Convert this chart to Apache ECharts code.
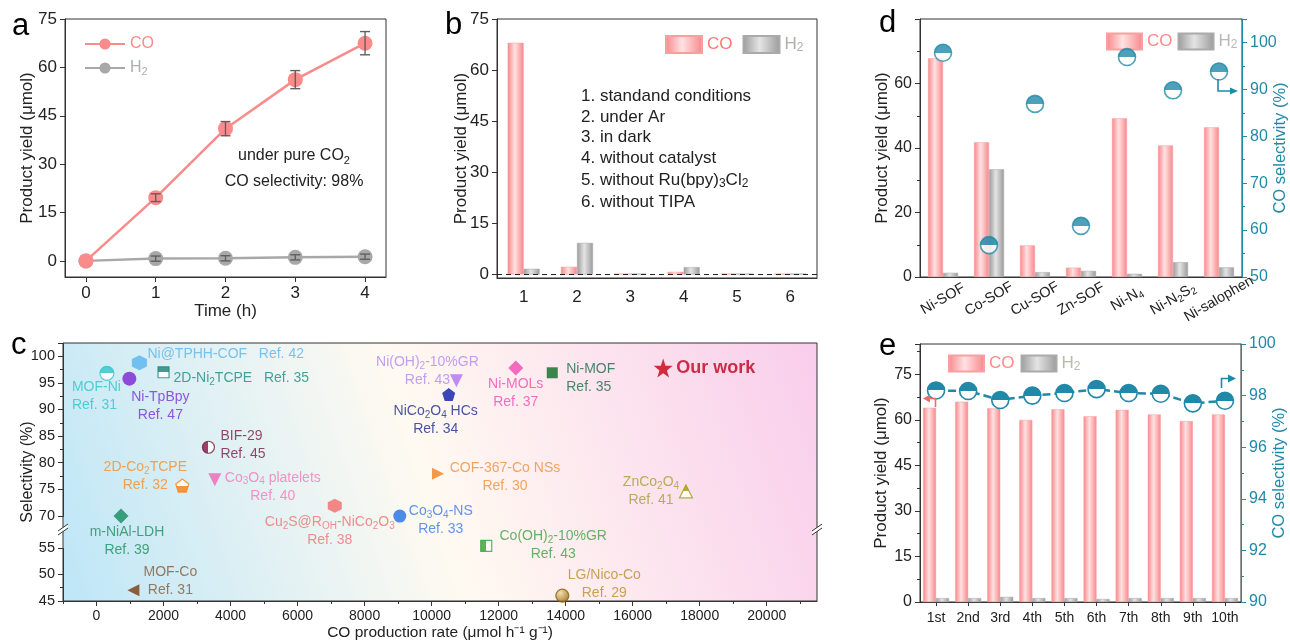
<!DOCTYPE html>
<html><head><meta charset="utf-8">
<script src="https://cdn.jsdelivr.net/npm/echarts@6/dist/echarts.min.js"></script>
<style>html,body{margin:0;padding:0;background:#fff}#chart{width:1290px;height:641px}</style>
</head><body><div id="chart"></div>
<script>
// ---------- Panel a ----------
const aTime = [0, 1, 2, 3, 4];
const aCO = [0, 19.6, 41, 56.2, 67.5];
const aCOerr = [0, 1.2, 2.2, 2.8, 3.6];
const aH2 = [0, 0.7, 0.8, 1.1, 1.3];
const aH2err = [0, 0.8, 0.8, 0.8, 0.8];
const aXTicks = [0, 1, 2, 3, 4];
const aYTicks = [0, 15, 30, 45, 60, 75];
// ---------- Panel b ----------
const bCats = ['1', '2', '3', '4', '5', '6'];
const bCO = [68, 2.3, 0.3, 0.8, 0.3, 0.3];
const bH2 = [1.7, 9.3, 0.3, 2.2, 0.3, 0.3];
const bYTicks = [0, 15, 30, 45, 60, 75];
const bNotes = ['1. standand conditions', '2. under Ar', '3. in dark', '4. without catalyst',
  '5. without Ru(bpy){s|3}Cl{s|2}', '6. without TIPA'];
// ---------- Panel c ----------
const cNames = ['MOF-Ni', 'Ni@TPHH-COF', 'Ni-TpBpy', '2D-Ni{s|2}TCPE', 'BIF-29', '2D-Co{s|2}TCPE',
  'Co{s|3}O{s|4} platelets', 'Cu{s|2}S@R{s|OH}-NiCo{s|2}O{s|3}', 'Co{s|3}O{s|4}-NS', 'm-NiAl-LDH', 'MOF-Co',
  'Ni(OH){s|2}-10%GR', 'NiCo{s|2}O{s|4} HCs', 'COF-367-Co NSs', 'Ni-MOLs', 'Ni-MOF', 'Our work',
  'ZnCo{s|2}O{s|4}', 'Co(OH){s|2}-10%GR', 'LG/Nico-Co'];
const cRefs = ['Ref. 31', 'Ref. 42', 'Ref. 47', 'Ref. 35', 'Ref. 45', 'Ref. 32', 'Ref. 40', 'Ref. 38',
  'Ref. 33', 'Ref. 39', 'Ref. 31', 'Ref. 43', 'Ref. 34', 'Ref. 30', 'Ref. 37', 'Ref. 35', '',
  'Ref. 41', 'Ref. 43', 'Ref. 29'];
const cRate = [310, 1280, 980, 2000, 3340, 2560, 3530, 7110, 9050, 730, 1100,
  10740, 10510, 10190, 12510, 13600, 16910, 17590, 11630, 13900];
const cSel = [96.8, 98.8, 95.8, 97, 82.9, 75.7, 76.8, 71.9, 69.9, 69.9, 47,
  95.4, 92.8, 77.9, 97.8, 96.9, 97.8, 74.6, 55.9, 46];
const cXTicks = [0, 2000, 4000, 6000, 8000, 10000, 12000, 14000, 16000, 18000, 20000];
const cXMinor = [-1000, 1000, 3000, 5000, 7000, 9000, 11000, 13000, 15000, 17000, 19000, 21000];
// ---------- Panel d ----------
const dCats = ['Ni-SOF', 'Co-SOF', 'Cu-SOF', 'Zn-SOF', 'Ni-N{s|4}', 'Ni-N{s|2}S{s|2}', 'Ni-salophen'];
const dCO = [67.8, 41.8, 9.8, 2.9, 49.2, 40.8, 46.4];
const dH2 = [1.3, 33.4, 1.5, 1.9, 1.0, 4.6, 3.0];
const dSel = [97.8, 56.8, 86.9, 60.9, 96.9, 89.8, 93.8];
// ---------- Panel e ----------
const eCats = ['1st', '2nd', '3rd', '4th', '5th', '6th', '7th', '8th', '9th', '10th'];
const eCO = [64, 66, 63.8, 60, 63.5, 61.2, 63.3, 61.8, 59.6, 61.8];
const eH2 = [1.3, 1.3, 1.7, 1.3, 1.3, 1.0, 1.3, 1.3, 1.3, 1.3];
const eSel = [98.2, 98.18, 97.83, 98.0, 98.1, 98.25, 98.1, 98.07, 97.7, 97.8];

// ---------- styles ----------
const FF = 'Arial, "Liberation Sans", Helvetica, sans-serif';
const TEAL = '#2189a8';
const INK = '#222';
const G = echarts.graphic;
function sub(fs) { const f = Math.round(fs * 0.68); return { s: { fontSize: f, lineHeight: f, verticalAlign: 'bottom' } }; }
function barGrad(edge, mid) { return new G.LinearGradient(0, 0, 1, 0, [{ offset: 0, color: edge }, { offset: 0.45, color: mid }, { offset: 1, color: edge }]); }
const PINK = barGrad('#f8868a', '#ffe2e2');
const GRAY = barGrad('#9a9a9a', '#e4e4e4');
const GradCtor = PINK.constructor;
function half(c, mode) {
  const w = '#ffffff';
  if (mode === 'top') return new G.LinearGradient(0, 0, 0, 1, [{ offset: 0, color: c }, { offset: 0.5, color: c }, { offset: 0.5, color: w }, { offset: 1, color: w }]);
  if (mode === 'bottom') return new G.LinearGradient(0, 0, 0, 1, [{ offset: 0, color: w }, { offset: 0.5, color: w }, { offset: 0.5, color: c }, { offset: 1, color: c }]);
  if (mode === 'left') return new G.LinearGradient(0, 0, 1, 0, [{ offset: 0, color: c }, { offset: 0.5, color: c }, { offset: 0.5, color: w }, { offset: 1, color: w }]);
  if (mode === 'sphere') return new G.RadialGradient(0.35, 0.3, 0.7, [{ offset: 0, color: '#f3dca0' }, { offset: 1, color: '#98680e' }]);
  return c;
}
const SYM = {
  circle: 'circle', rect: 'rect', diamond: 'diamond', tri: 'triangle',
  hex: 'path://M50,0 L93.3,25 L93.3,75 L50,100 L6.7,75 L6.7,25 Z',
  pent: 'path://M50,0 L97.6,34.5 L79.4,90.5 L20.6,90.5 L2.4,34.5 Z',
  star: 'path://M50,0 L61.8,35.3 L97.6,35.3 L68.8,57.1 L79.4,91.2 L50,70.6 L20.6,91.2 L31.2,57.1 L2.4,35.3 L38.2,35.3 Z',
  tdown: 'path://M0,0 L100,0 L50,86.6 Z',
  tleft: 'path://M0,50 L86.6,0 L86.6,100 Z',
  tright: 'path://M0,0 L86.6,50 L0,100 Z'
};
// symbol, colour, fill mode, size, label align, dx, dy, inline
const cStyle = [
  { sym: 'circle', c: '#33c6c8', f: 'top', s: 14, al: 'left', dx: -35, dy: 23 },
  { sym: 'hex', c: '#58b5ef', f: 'solid', s: 15, al: 'left', dx: 8, dy: -9, inline: true },
  { sym: 'circle', c: '#7a22d6', f: 'solid', s: 14, al: 'center', dx: 31, dy: 27 },
  { sym: 'rect', c: '#1c8479', f: 'top', s: 11, al: 'left', dx: 10, dy: 6, inline: true },
  { sym: 'circle', c: '#861743', f: 'left', s: 12, al: 'left', dx: 12, dy: -2 },
  { sym: 'pent', c: '#ff7f12', f: 'bottom', s: 13, al: 'center', dx: -37, dy: -9 },
  { sym: 'tdown', c: '#f064b4', f: 'solid', s: 13, al: 'center', dx: 58, dy: 7 },
  { sym: 'hex', c: '#f26c6c', f: 'solid', s: 14, al: 'center', dx: -5, dy: 25 },
  { sym: 'circle', c: '#1f6fe6', f: 'solid', s: 13, al: 'center', dx: 41, dy: 4 },
  { sym: 'diamond', c: '#138a5c', f: 'solid', s: 15, al: 'center', dx: 6, dy: 25 },
  { sym: 'tleft', c: '#7a3a0e', f: 'solid', s: 12, al: 'center', dx: 37, dy: -9 },
  { sym: 'tdown', c: '#b070f2', f: 'solid', s: 13, al: 'center', dx: -29, dy: -10 },
  { sym: 'pent', c: '#0a1ca8', f: 'solid', s: 13, al: 'center', dx: -13, dy: 26 },
  { sym: 'tright', c: '#f28020', f: 'solid', s: 12, al: 'center', dx: 67, dy: 3 },
  { sym: 'diamond', c: '#f048b2', f: 'solid', s: 15, al: 'center', dx: 0, dy: 25 },
  { sym: 'rect', c: '#0b6a22', f: 'solid', s: 11, al: 'left', dx: 14, dy: 5 },
  { sym: 'star', c: '#c8000f', f: 'solid', s: 19, al: 'left', dx: 13, dy: 0 },
  { sym: 'tri', c: '#a39e12', f: 'top', s: 13, al: 'center', dx: -35, dy: 0 },
  { sym: 'rect', c: '#33a233', f: 'left', s: 11, al: 'center', dx: 67, dy: -1 },
  { sym: 'circle', c: '#a8760f', f: 'sphere', s: 13, al: 'center', dx: 42, dy: -12 }
];
const cLabelColor = ['#2ec5c8', '#5ab5ee', '#7a2ed8', '#1f8a80', '#7e1844', '#f58f2c', '#f27ab8', '#f07272',
  '#3a7ae4', '#1e8f5e', '#8a5a32', '#b488f0', '#1a2a8c', '#f0903c', '#f04cb0', '#1a6a4a', '#c0001a',
  '#a8a032', '#40a040', '#b8902c'];

const cData = cNames.map((n, i) => {
  const st = cStyle[i];
  const isOur = n === 'Our work';
  return {
    value: [cRate[i], cSel[i]],
    symbol: SYM[st.sym], symbolSize: st.s,
    itemStyle: { color: half(st.c, st.f), borderColor: st.f === 'sphere' ? '#8a5c0c' : st.c, borderWidth: st.f === 'solid' ? 0 : 1.2 },
    label: {
      show: true, position: 'inside', align: st.al, verticalAlign: 'middle', offset: [st.dx, st.dy],
      color: cLabelColor[i], fontSize: isOur ? 18 : 14, fontWeight: isOur ? 'bold' : 'normal', lineHeight: 18,
      fontFamily: FF, textBorderWidth: 0, rich: sub(14),
      formatter: () => cRefs[i] ? n + (st.inline ? '   ' : '\n') + cRefs[i] : n
    }
  };
});

function pair(xs, ys) { return xs.map((x, i) => [x, ys[i]]); }
function errData(xs, ys, es) { return xs.map((x, i) => [x, ys[i], es[i]]); }

const axisBase = (color) => ({
  nameMoveOverlap: false,
  axisLine: { show: true, onZero: false, lineStyle: { color: color || '#333', width: 1 } },
  axisTick: { show: true, inside: false, length: 5, lineStyle: { color: color || '#333' } },
  axisLabel: { color: color || INK, fontSize: 16, fontFamily: FF, hideOverlap: false },
  splitLine: { show: false },
  nameTextStyle: { color: color || INK, fontSize: 17, fontFamily: FF },
});
function mergeDeep(a, b) {
  const o = Object.assign({}, a);
  for (const k in b) {
    if (b[k] && typeof b[k] === 'object' && !Array.isArray(b[k]) && !(b[k] instanceof GradCtor) && a[k] && typeof a[k] === 'object') o[k] = Object.assign({}, a[k], b[k]);
    else o[k] = b[k];
  }
  return o;
}
function ax(color, extra) { return mergeDeep(axisBase(color), extra); }

const gridBase = { show: true, borderColor: '#333', borderWidth: 1, backgroundColor: 'transparent', containLabel: false, outerBoundsMode: 'none' };
const bgC = new G.LinearGradient(0, 1, 1, 0, [
  { offset: 0, color: '#bde6f7' }, { offset: 0.48, color: '#fffaf1' }, { offset: 1, color: '#f9cdec' }]);

const legendFmt = (name) => name.indexOf('CO') === 0 ? 'CO' : 'H{s|2}';

const halfTeal = half(TEAL, 'top');

const option = {
  animation: false,
  backgroundColor: '#fff',
  textStyle: { fontFamily: FF },
  grid: [
    Object.assign({}, gridBase, { left: 65, top: 19, width: 321, height: 258 }),
    Object.assign({}, gridBase, { left: 497, top: 19, width: 320, height: 259 }),
    Object.assign({}, gridBase, { left: 63, top: 343, width: 754, height: 258, backgroundColor: bgC }),
    Object.assign({}, gridBase, { left: 920, top: 19, width: 322, height: 258 }),
    Object.assign({}, gridBase, { left: 920, top: 344, width: 321, height: 258 }),
    Object.assign({}, gridBase, { show: false, left: 63, top: 343, width: 754, height: 258 })
  ],
  xAxis: [
    ax(null, { type: 'value', gridIndex: 0, min: -0.3, max: 4.3, name: 'Time (h)', nameLocation: 'middle', nameGap: 26,
      axisTick: { customValues: aXTicks }, axisLabel: { customValues: aXTicks, fontSize: 17, margin: 8 } }),
    ax(null, { type: 'category', gridIndex: 1, data: bCats, axisTick: { show: false }, axisLabel: { fontSize: 17, margin: 11 } }),
    ax(null, { type: 'value', gridIndex: 2, min: -1000, max: 21500, name: 'CO production rate (μmol h⁻¹ g⁻¹)', nameLocation: 'middle', nameGap: 24,
      axisTick: { customValues: cXTicks }, axisLabel: { customValues: cXTicks, fontSize: 14, margin: 8, formatter: (v) => String(v) }, nameTextStyle: { fontSize: 15.5 } }),
    ax(null, { type: 'category', gridIndex: 3, data: dCats, axisTick: { show: false },
      axisLabel: { rotate: 30, align: 'center', verticalAlign: 'middle', margin: 22, fontSize: 14.5, lineHeight: 18, rich: sub(14.5), formatter: (v) => v, interval: 0 } }),
    ax(null, { type: 'category', gridIndex: 4, data: eCats, axisTick: { alignWithLabel: true, length: 4 }, axisLabel: { fontSize: 14, margin: 9, interval: 0 } }),
    ax(null, { type: 'value', gridIndex: 5, min: -1000, max: 21500, axisLine: { show: false }, axisLabel: { show: false },
      axisTick: { customValues: cXMinor, length: 3 } })
  ],
  yAxis: [
    ax(null, { type: 'value', gridIndex: 0, min: -5, max: 75, name: 'Product yield (μmol)', nameLocation: 'middle', nameGap: 29, nameRotate: 90,
      axisTick: { customValues: aYTicks }, axisLabel: { customValues: aYTicks, fontSize: 17 } }),
    ax(null, { type: 'value', gridIndex: 1, min: -1, max: 75, name: 'Product yield (μmol)', nameLocation: 'middle', nameGap: 27, nameRotate: 90,
      axisTick: { customValues: bYTicks }, axisLabel: { customValues: bYTicks, fontSize: 17 } }),
    ax(null, { type: 'value', gridIndex: 2, min: 45, max: 102.5, interval: 5, name: 'Selectivity (%)', nameLocation: 'middle', nameGap: 27, nameRotate: 90,
      breaks: [{ start: 55, end: 70, gap: 6 }], breakArea: { show: false }, breakLabelLayout: { moveOverlap: false },
      minorTick: { show: true, splitNumber: 2, length: 3, lineStyle: { color: '#333' } },
      axisLabel: { fontSize: 14.5, showMaxLabel: false, hideOverlap: false, formatter: (v) => (Math.abs(v % 5) < 1e-6 ? String(v) : '') },
      nameTextStyle: { fontSize: 16 } }),
    ax(null, { type: 'value', gridIndex: 3, min: 0, max: 80, interval: 20, name: 'Product yield (μmol)', nameLocation: 'middle', nameGap: 29, nameRotate: 90,
      minorTick: { show: true, splitNumber: 2, length: 3, lineStyle: { color: '#333' } }, axisLabel: { fontSize: 16, showMaxLabel: false } }),
    ax(TEAL, { type: 'value', gridIndex: 3, position: 'right', min: 50, max: 105, interval: 10, name: 'CO selectivity (%)', nameLocation: 'middle', nameGap: 30, nameRotate: 90,
      minorTick: { show: true, splitNumber: 2, length: 3, lineStyle: { color: TEAL } }, axisLabel: { fontSize: 16, showMaxLabel: false }, nameTextStyle: { fontSize: 16.5 } }),
    ax(null, { type: 'value', gridIndex: 4, min: 0, max: 85, interval: 15, name: 'Product yield (μmol)', nameLocation: 'middle', nameGap: 30, nameRotate: 90,
      minorTick: { show: true, splitNumber: 2, length: 3, lineStyle: { color: '#333' } }, axisLabel: { fontSize: 16, showMaxLabel: false } }),
    ax(TEAL, { type: 'value', gridIndex: 4, position: 'right', min: 90, max: 100, interval: 2, name: 'CO selectivity (%)', nameLocation: 'middle', nameGap: 30, nameRotate: 90,
      minorTick: { show: true, splitNumber: 2, length: 3, lineStyle: { color: TEAL } }, axisLabel: { fontSize: 16 }, nameTextStyle: { fontSize: 16.5 } }),
    { type: 'value', gridIndex: 5, show: false, min: 0, max: 1 }
  ],
  legend: [
    { left: 79, top: 30, orient: 'vertical', itemWidth: 40, itemHeight: 14, itemGap: 6, selectedMode: false,
      data: [{ name: 'CO_a', textStyle: { color: '#f78a8a' } }, { name: 'H2_a', textStyle: { color: '#a8b2a8' } }],
      formatter: legendFmt, textStyle: { fontSize: 16, fontFamily: FF, lineHeight: 18, rich: sub(16) } },
    { left: 660, top: 30, itemWidth: 36, itemHeight: 17, itemGap: 10, icon: 'rect', selectedMode: false,
      data: [{ name: 'CO_b', textStyle: { color: '#f77' } }, { name: 'H2_b', textStyle: { color: '#aab2aa' } }],
      formatter: legendFmt, textStyle: { fontSize: 17, fontFamily: FF, lineHeight: 19, rich: sub(17) } },
    { left: 1101, top: 27, itemWidth: 35, itemHeight: 16, itemGap: 5, icon: 'rect', selectedMode: false,
      data: [{ name: 'CO_d', textStyle: { color: '#f88' } }, { name: 'H2_d', textStyle: { color: '#b8b8b8' } }],
      formatter: legendFmt, textStyle: { fontSize: 17, fontFamily: FF, lineHeight: 19, rich: sub(17) } },
    { left: 943, top: 349, itemWidth: 35, itemHeight: 16, itemGap: 6, icon: 'rect', selectedMode: false,
      data: [{ name: 'CO_e', textStyle: { color: '#f88' } }, { name: 'H2_e', textStyle: { color: '#b8bca8' } }],
      formatter: legendFmt, textStyle: { fontSize: 17, fontFamily: FF, lineHeight: 19, rich: sub(17) } }
  ],
  series: [
    // a
    { name: 'CO_a', type: 'line', xAxisIndex: 0, yAxisIndex: 0, data: pair(aTime, aCO), symbol: 'circle', symbolSize: 15,
      itemStyle: { color: '#f98b8b' }, lineStyle: { color: '#f98b8b', width: 2.5 }, z: 3 },
    { name: 'H2_a', type: 'line', xAxisIndex: 0, yAxisIndex: 0, data: pair(aTime, aH2), symbol: 'circle', symbolSize: 15,
      itemStyle: { color: '#a8a8a8' }, lineStyle: { color: '#a8a8a8', width: 2.5 }, z: 2 },
    { name: 'err_a', type: 'custom', xAxisIndex: 0, yAxisIndex: 0, z: 5, encode: { x: 0, y: 1 },
      data: errData(aTime, aCO, aCOerr).concat(errData(aTime, aH2, aH2err)),
      renderItem: (params, api) => {
        const x = api.value(0), y = api.value(1), e = api.value(2);
        if (!e) return null;
        const hi = api.coord([x, y + e]), lo = api.coord([x, y - e]);
        const w = 5, st = { stroke: '#606060', lineWidth: 1.4 };
        return { type: 'group', children: [
          { type: 'line', shape: { x1: hi[0], y1: hi[1], x2: lo[0], y2: lo[1] }, style: st },
          { type: 'line', shape: { x1: hi[0] - w, y1: hi[1], x2: hi[0] + w, y2: hi[1] }, style: st },
          { type: 'line', shape: { x1: lo[0] - w, y1: lo[1], x2: lo[0] + w, y2: lo[1] }, style: st }
        ] };
      } },
    // b
    { name: 'CO_b', type: 'bar', xAxisIndex: 1, yAxisIndex: 1, data: bCO, barWidth: 16, barGap: '0%',
      itemStyle: { color: PINK, borderColor: '#f8a0a0', borderWidth: 0.5 },
      markLine: { silent: true, symbol: 'none', label: { show: false }, data: [{ yAxis: 0 }], lineStyle: { type: [5, 4], color: '#222', width: 1 } } },
    { name: 'H2_b', type: 'bar', xAxisIndex: 1, yAxisIndex: 1, data: bH2, barWidth: 16, barGap: '0%',
      itemStyle: { color: GRAY, borderColor: '#aaa', borderWidth: 0.5 } },
    // c
    { name: 'cmp', type: 'scatter', xAxisIndex: 2, yAxisIndex: 2, data: cData, z: 4 },
    // d
    { name: 'CO_d', type: 'bar', xAxisIndex: 3, yAxisIndex: 3, data: dCO, barWidth: 15, barGap: '0%',
      itemStyle: { color: PINK, borderColor: '#f8a0a0', borderWidth: 0.5 } },
    { name: 'H2_d', type: 'bar', xAxisIndex: 3, yAxisIndex: 3, data: dH2, barWidth: 15, barGap: '0%',
      itemStyle: { color: GRAY, borderColor: '#aaa', borderWidth: 0.5 } },
    { name: 'sel_d', type: 'scatter', xAxisIndex: 3, yAxisIndex: 4, data: dSel, symbol: 'circle', symbolSize: 17,
      itemStyle: { color: halfTeal, borderColor: TEAL, borderWidth: 1.6 }, z: 5 },
    // e
    { name: 'CO_e', type: 'bar', xAxisIndex: 4, yAxisIndex: 5, data: eCO, barWidth: 13, barGap: '0%',
      itemStyle: { color: PINK, borderColor: '#f8a0a0', borderWidth: 0.5 } },
    { name: 'H2_e', type: 'bar', xAxisIndex: 4, yAxisIndex: 5, data: eH2, barWidth: 13, barGap: '0%',
      itemStyle: { color: GRAY, borderColor: '#aaa', borderWidth: 0.5 } },
    { name: 'sel_e', type: 'line', xAxisIndex: 4, yAxisIndex: 6, data: eSel, symbol: 'circle', symbolSize: 17,
      itemStyle: { color: halfTeal, borderColor: TEAL, borderWidth: 1.6 }, lineStyle: { color: TEAL, width: 2.5, type: [8, 4] }, z: 5 }
  ],
  graphic: [
    { type: 'text', x: 12, y: 26, style: { text: 'a', fontSize: 31, fill: '#000', fontFamily: FF, textVerticalAlign: 'middle' } },
    { type: 'text', x: 445, y: 25, style: { text: 'b', fontSize: 31, fill: '#000', fontFamily: FF, textVerticalAlign: 'middle' } },
    { type: 'text', x: 11, y: 345, style: { text: 'c', fontSize: 31, fill: '#000', fontFamily: FF, textVerticalAlign: 'middle' } },
    { type: 'text', x: 879, y: 23, style: { text: 'd', fontSize: 31, fill: '#000', fontFamily: FF, textVerticalAlign: 'middle' } },
    { type: 'text', x: 879, y: 346, style: { text: 'e', fontSize: 31, fill: '#000', fontFamily: FF, textVerticalAlign: 'middle' } },
    { type: 'text', x: 294, y: 156, style: { text: 'under pure CO{s|2}', fontSize: 16, lineHeight: 20, rich: sub(16), fill: INK, fontFamily: FF, textAlign: 'center', textVerticalAlign: 'middle' } },
    { type: 'text', x: 294, y: 182, style: { text: 'CO selectivity: 98%', fontSize: 16, fill: INK, fontFamily: FF, textAlign: 'center', textVerticalAlign: 'middle' } },
    ...bNotes.map((t, i) => ({ type: 'text', x: 581, y: [96, 117, 137, 158, 180, 202][i],
      style: { text: t, fontSize: 17, lineHeight: 20, rich: sub(17), fill: INK, fontFamily: FF, textVerticalAlign: 'middle' } })),
    // arrows
    { type: 'polyline', shape: { points: [[1218, 79], [1218, 91], [1231, 91]] }, style: { stroke: TEAL, lineWidth: 1.6, fill: null }, z: 10 },
    { type: 'polygon', shape: { points: [[1230, 87.5], [1238, 91], [1230, 94.5]] }, style: { fill: TEAL }, z: 10 },
    { type: 'polyline', shape: { points: [[1221.5, 388], [1221.5, 378.5], [1229, 378.5]] }, style: { stroke: TEAL, lineWidth: 1.6, fill: null }, z: 10 },
    { type: 'polygon', shape: { points: [[1228, 374.5], [1236, 378.5], [1228, 382.5]] }, style: { fill: TEAL }, z: 10 },
    { type: 'polyline', shape: { points: [[935.5, 407], [935.5, 398.5], [929, 398.5]] }, style: { stroke: '#f06a6a', lineWidth: 1.6, fill: null }, z: 10 },
    { type: 'polygon', shape: { points: [[930, 394.5], [923, 398.5], [930, 402.5]] }, style: { fill: '#f06a6a' }, z: 10 },
    // axis break marks in c
    { type: 'polygon', shape: { points: [[58, 535], [68, 528], [68, 524], [58, 531]] }, style: { fill: '#fff' }, z: 10 },
    { type: 'line', shape: { x1: 58, y1: 535, x2: 68, y2: 528 }, style: { stroke: '#333', lineWidth: 1 }, z: 10 },
    { type: 'line', shape: { x1: 58, y1: 531, x2: 68, y2: 524 }, style: { stroke: '#333', lineWidth: 1 }, z: 10 },
    { type: 'polygon', shape: { points: [[812, 535], [822, 528], [822, 524], [812, 531]] }, style: { fill: '#fff' }, z: 10 },
    { type: 'line', shape: { x1: 812, y1: 535, x2: 822, y2: 528 }, style: { stroke: '#333', lineWidth: 1 }, z: 10 },
    { type: 'line', shape: { x1: 812, y1: 531, x2: 822, y2: 524 }, style: { stroke: '#333', lineWidth: 1 }, z: 10 }
  ]
};
const chart = echarts.init(document.getElementById('chart'));
chart.setOption(option);
</script></body></html>
